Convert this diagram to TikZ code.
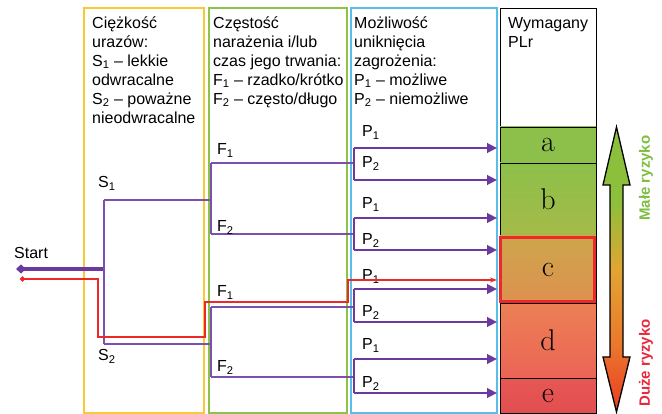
\documentclass[tikz,border=0pt]{standalone}
\usepackage{fontspec}
\newfontfamily\arialf{Liberation Sans}
\usetikzlibrary{arrows.meta}
\definecolor{ycol}{RGB}{250,200,50}
\definecolor{gcol}{RGB}{140,196,75}
\definecolor{bcol}{RGB}{90,190,235}
\definecolor{pcol}{RGB}{124,80,176}
\definecolor{pdark}{RGB}{108,58,158}
\definecolor{rcol}{RGB}{236,40,40}
\definecolor{plA}{RGB}{140,192,74}
\definecolor{plB}{RGB}{165,186,72}
\definecolor{plC1}{RGB}{205,165,75}
\definecolor{plC2}{RGB}{222,145,80}
\definecolor{plD1}{RGB}{236,128,85}
\definecolor{plD2}{RGB}{235,100,85}
\definecolor{plE1}{RGB}{230,88,84}
\definecolor{plE2}{RGB}{226,78,80}
\definecolor{arrgreen}{RGB}{140,192,60}
\definecolor{arrmid}{RGB}{225,165,50}
\definecolor{arrorange}{RGB}{235,120,45}
\definecolor{arrbot}{RGB}{232,60,35}
\definecolor{mgreen}{RGB}{125,190,65}
\definecolor{dred}{RGB}{232,40,60}
\pgfdeclareverticalshading{riskshade}{100bp}{color(0bp)=(arrbot); color(25bp)=(arrbot); color(37bp)=(arrorange); color(50bp)=(arrmid); color(62bp)=(arrgreen); color(75bp)=(arrgreen); color(100bp)=(arrgreen)}
\begin{document}
\begin{tikzpicture}[x=1pt,y=-1pt,
  colbox/.style={line width=1.8pt},
  hdr/.style={font=\arialf\fontsize{16}{19}\selectfont, align=left, anchor=north west, inner sep=0pt},
  lbl/.style={font=\arialf\fontsize{16}{19}\selectfont, anchor=base west, inner sep=0pt},
  pline/.style={draw=pcol, line width=1.8pt},
  pvert/.style={draw=pdark, line width=2.6pt},
  parrow/.style={draw=pdark, line width=2.6pt, -{Triangle[length=10pt,width=9.5pt]}},
  plr/.style={draw=black, line width=0.8pt, minimum width=96pt, inner sep=0pt, font=\rmfamily\fontsize{30}{34}\selectfont},
  side/.style={font=\arialf\bfseries\fontsize{15}{18}\selectfont, rotate=90, inner sep=0pt}
]
\useasboundingbox (0,0) rectangle (662,414);
% column boxes
\draw[colbox, ycol] (84,8) rectangle (204,413);
\draw[colbox, gcol] (209,8) rectangle (347,413);
\draw[colbox, bcol] (351,8) rectangle (497,413);
% headers
\node[hdr] (hS) at (92,14.7) {\strut Ciężkość\\urazów:\\S\textsubscript{1} – lekkie\\odwracalne\\S\textsubscript{2} – poważne\\nieodwracalne};
\node[hdr] (hF) at (213,14.7) {\strut Częstość\\narażenia i/lub\\czas jego trwania:\\F\textsubscript{1} – rzadko/krótko\\F\textsubscript{2} – często/długo};
\node[hdr] (hP) at (354,14.7) {\strut Możliwość\\uniknięcia\\zagrożenia:\\P\textsubscript{1} – możliwe\\P\textsubscript{2} – niemożliwe};
% PLr column
\node[plr, minimum height=119pt] (w) at (548,67.5) {};
\node[hdr] (hW) at (508,14.7) {\strut Wymagany\\PLr};
\node[plr, minimum height=36pt, top color=plA, bottom color=plA] (a) at (548,145) {a};
\node[plr, minimum height=73pt, top color=plA, bottom color=plB] (b) at (548,199.5) {b};
\node[plr, minimum height=67pt, top color=plC1, bottom color=plC2] (c) at (548,269.5) {c};
\node[plr, minimum height=75pt, top color=plD1, bottom color=plD2] (d) at (548,340.5) {d};
\node[plr, minimum height=35pt, top color=plE1, bottom color=plE2] (e) at (548,395.5) {e};
\draw[rcol, line width=3pt] ([shift={(0.5,1.5)}]c.north west) rectangle ([shift={(-1.5,-1.5)}]c.south east);
% big risk arrow
\path[draw=black, line width=1.3pt, shading=riskshade]
  (616.5,127) -- (630,185) -- (623,185) -- (623,357) -- (630,357) -- (616.5,412)
  -- (603,357) -- (610,357) -- (610,185) -- (603,185) -- cycle;
\node[side, text=mgreen] (lowrisk) at (646,178) {Małe ryzyko};
\node[side, text=dred] (highrisk) at (646,363) {Duże ryzyko};
% start
\node[lbl] (startlbl) at (14,259) {Start};
\coordinate (st) at (16,269);
\coordinate (sb) at (104,269);
\coordinate (s1) at (104,200);
\coordinate (s2) at (104,344);
\coordinate (g1) at (211,200);
\coordinate (g2) at (211,344);
\draw[pdark, line width=4pt, {Diamond[length=10pt,width=9pt]}-] (st) -- (sb);
\draw[pline] (s1) -- (s2);
\draw[pline] (s1) -- (g1);
\draw[pline] (s2) -- (g2);
\node[lbl] (s1lbl) at (98,188) {S\textsubscript{1}};
\node[lbl] (s2lbl) at (98,361) {S\textsubscript{2}};
% F branches
\coordinate (fA) at (211,163); \coordinate (fB) at (211,234);
\coordinate (fC) at (211,307); \coordinate (fD) at (211,377);
\coordinate (qA) at (354,163); \coordinate (qB) at (354,234);
\coordinate (qC) at (354,307); \coordinate (qD) at (354,377);
\draw[pline] (fA) -- (fB);
\draw[pline] (fC) -- (fD);
\foreach \n in {A,B,C,D} { \draw[pline] (f\n) -- (q\n); }
\node[lbl] (fAl) at (217,155) {F\textsubscript{1}};
\node[lbl] (fBl) at (217,232) {F\textsubscript{2}};
\node[lbl] (fCl) at (217,297) {F\textsubscript{1}};
\node[lbl] (fDl) at (217,372) {F\textsubscript{2}};
% P branches
\foreach \n/\ya/\yb/\la/\lb in {A/148/180/137/168, B/218/250/209/245, C/289/322/281/317, D/359/393/350/388} {
  \coordinate (p1\n) at (354,\ya);
  \coordinate (p2\n) at (354,\yb);
  \coordinate (t1\n) at (497,\ya);
  \coordinate (t2\n) at (497,\yb);
  \draw[pvert] (p1\n) -- (p2\n);
  \draw[parrow] (p1\n) -- (t1\n);
  \draw[parrow] (p2\n) -- (t2\n);
  \node[lbl] (l1\n) at (362,\la) {P\textsubscript{1}};
  \node[lbl] (l2\n) at (362,\lb) {P\textsubscript{2}};
}
% red path
\coordinate (rs) at (20,279);
\coordinate (rc) at (497,280);
\draw[rcol, line width=2pt, {Circle[length=5pt]}-{Stealth[length=7pt,width=5pt]}]
  (rs) -- (98,279) -- (98,337) -- (205,337) -- (205,302) -- (348,302) -- (348,280) -- (rc);
\end{tikzpicture}
\end{document}
